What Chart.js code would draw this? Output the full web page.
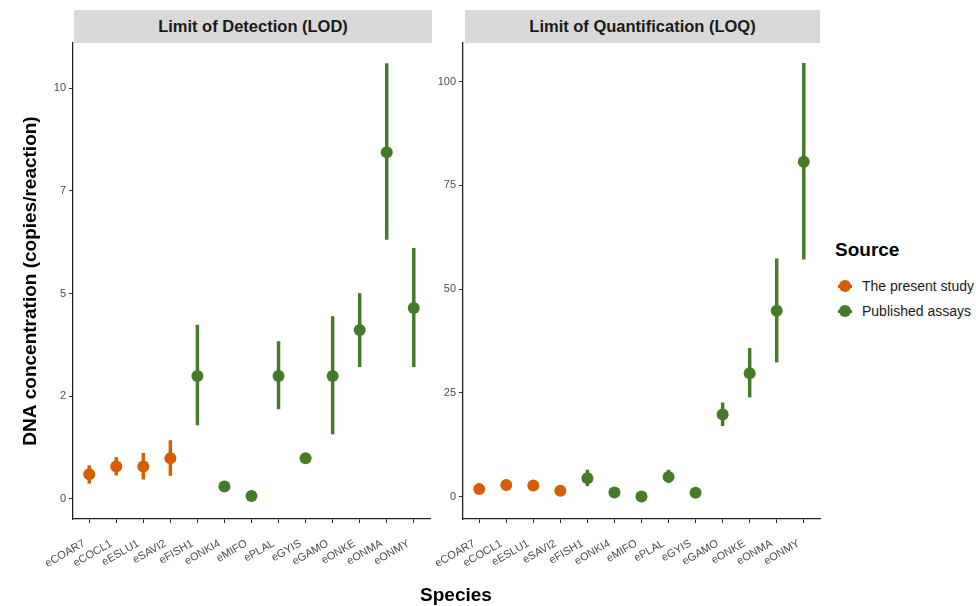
<!DOCTYPE html>
<html>
<head>
  <title>LOD and LOQ by species</title>
  <style>
    body { margin: 0; background: #fff; font-family: "Liberation Sans", Arial, sans-serif; }
    #wrap { position: relative; width: 976px; height: 606px; overflow: hidden; }
    .panel { position: absolute; top: 0; height: 606px; }
    .strip { position: absolute; top: 10px; height: 33px; line-height: 33px; background: #d9d9d9;
             text-align: center; font-weight: bold; font-size: 16.5px; color: #1a1a1a; }
    #xtitle { position: absolute; top: 584px; left: 400px; width: 112px; text-align: center;
              font-weight: bold; font-size: 19px; color: #000; }
    #legend { position: absolute; left: 835px; top: 239px; }
    #legend .ttl { font-weight: bold; font-size: 19px; color: #000; margin-bottom: 13px; }
    #legend .item { position: relative; height: 25px; line-height: 25px; font-size: 14px; color: #1a1a1a; padding-left: 27px; }
    #legend .dot { position: absolute; left: 4px; top: 6px; width: 12px; height: 12px; border-radius: 50%; }
    #legend .bar { position: absolute; left: 3px; top: 11px; width: 14px; height: 3px; }
  </style>
</head>
<body>
<div id="wrap">
  <div class="strip" style="left:74px;width:358px">Limit of Detection (LOD)</div>
  <div class="strip" style="left:465px;width:355px">Limit of Quantification (LOQ)</div>
  <div class="panel" style="left:0;width:440px"><canvas id="lodChart"></canvas></div>
  <div class="panel" style="left:420px;width:410px"><canvas id="loqChart"></canvas></div>
  <div id="xtitle">Species</div>
  <div id="legend"></div>
</div>

<script src="https://cdn.jsdelivr.net/npm/chart.js"></script>
<script>
  const species = ['eCOAR7', 'eCOCL1', 'eESLU1', 'eSAVI2', 'eFISH1', 'eONKI4', 'eMIFO',
                   'ePLAL', 'eGYIS', 'eGAMO', 'eONKE', 'eONMA', 'eONMY'];
  const sources = ['The present study', 'Published assays'];
  const speciesSource = [0, 0, 0, 0, 1, 1, 1, 1, 1, 1, 1, 1, 1];
  const sourceColors = ['#D55E00', '#457A28'];

  // LOD (copies/reaction): mean, lower and upper ends of the range
  const lodMean = [0.60, 0.79, 0.79, 0.99, 2.99, 0.30, 0.07, 2.99, 0.99, 2.99, 4.11, 8.44, 4.65];
  const lodLow  = [0.38, 0.58, 0.48, 0.57, 1.80, null, null, 2.19, null, 1.58, 3.22, 6.32, 3.22];
  const lodHigh = [0.81, 1.01, 1.11, 1.42, 4.23, null, null, 3.83, null, 4.44, 5.00, 10.6, 6.10];

  // LOQ (copies/reaction)
  const loqMean = [1.8, 2.8, 2.65, 1.4, 4.4, 1.0, 0.0, 4.75, 0.9, 19.8, 29.7, 44.8, 80.7];
  const loqLow  = [null, null, null, null, 2.6, null, null, 3.4, null, 17.1, 24.0, 32.4, 57.2];
  const loqHigh = [null, null, null, null, 6.4, null, null, 6.4, null, 22.6, 35.7, 57.3, 104.4];

  const lodTicks = [0, 2.5, 5, 7.5, 10];
  const lodTickLabels = ['0', '2', '5', '7', '10'];
  const loqTicks = [0, 25, 50, 75, 100];
  const loqTickLabels = ['0', '25', '50', '75', '100'];

  Chart.defaults.font.family = '"Liberation Sans", Arial, sans-serif';
  Chart.defaults.animation = false;

  function drawPanel(id, mean, low, high, yMin, yMax, yTicks, yLabels, yWidth, padRight, yTitle) {
    const colors = speciesSource.map(s => sourceColors[s]);
    const withRange = species.map((_, i) => i).filter(i => low[i] !== null);
    const axisStyle = {
      grid: { drawOnChartArea: false, tickLength: 4, tickColor: '#333', offset: false },
      border: { color: '#222', width: 1.3 }
    };
    new Chart(document.getElementById(id), {
      type: 'line',
      data: {
        datasets: [{
          label: 'mean',
          showLine: false,
          data: mean.map((v, i) => ({ x: i, y: v })),
          pointRadius: 6,
          pointHoverRadius: 6,
          pointBorderWidth: 0,
          pointBackgroundColor: colors,
          order: 0
        }, {
          type: 'bar',
          label: 'range',
          data: withRange.map(i => ({ x: i, y: [low[i], high[i]] })),
          backgroundColor: withRange.map(i => colors[i]),
          barThickness: 2.8,
          order: 1
        }]
      },
      options: {
        responsive: true,
        maintainAspectRatio: false,
        layout: { padding: { top: 43, right: padRight, left: 0, bottom: 0 } },
        plugins: { legend: { display: false }, tooltip: { enabled: false } },
        scales: {
          x: Object.assign({
            type: 'linear',
            offset: false,
            min: -0.6,
            max: species.length - 0.4,
            afterBuildTicks: s => { s.ticks = species.map((_, i) => ({ value: i })); },
            afterFit: s => { s.height = 87; },
            ticks: {
              callback: v => species[v],
              autoSkip: false,
              minRotation: 30,
              maxRotation: 30,
              color: '#4d4d4d',
              font: { size: 11 },
              padding: 14,
              labelOffset: -5
            }
          }, axisStyle),
          y: Object.assign({
            type: 'linear',
            min: yMin,
            max: yMax,
            afterBuildTicks: s => { s.ticks = yTicks.map(v => ({ value: v })); },
            afterFit: s => { s.width = yWidth; },
            ticks: {
              callback: (v, idx) => yLabels[idx],
              color: '#4d4d4d',
              font: { size: 11 },
              padding: 3
            },
            title: {
              display: !!yTitle,
              text: yTitle || '',
              color: '#000',
              font: { size: 19, weight: 'bold' },
              padding: { top: 19, bottom: 0 }
            }
          }, axisStyle)
        }
      }
    });
  }

  drawPanel('lodChart', lodMean, lodLow, lodHigh, -0.49, 11.1, lodTicks, lodTickLabels, 73, 10,
            'DNA concentration (copies/reaction)');
  drawPanel('loqChart', loqMean, loqLow, loqHigh, -5.4, 109.3, loqTicks, loqTickLabels, 43, 10, null);

  // legend
  const legend = document.getElementById('legend');
  legend.innerHTML = '<div class="ttl">Source</div>' + sources.map((s, i) =>
    `<div class="item"><span class="bar" style="background:${sourceColors[i]}"></span>` +
    `<span class="dot" style="background:${sourceColors[i]}"></span>${s}</div>`).join('');
</script>
</body>
</html>
